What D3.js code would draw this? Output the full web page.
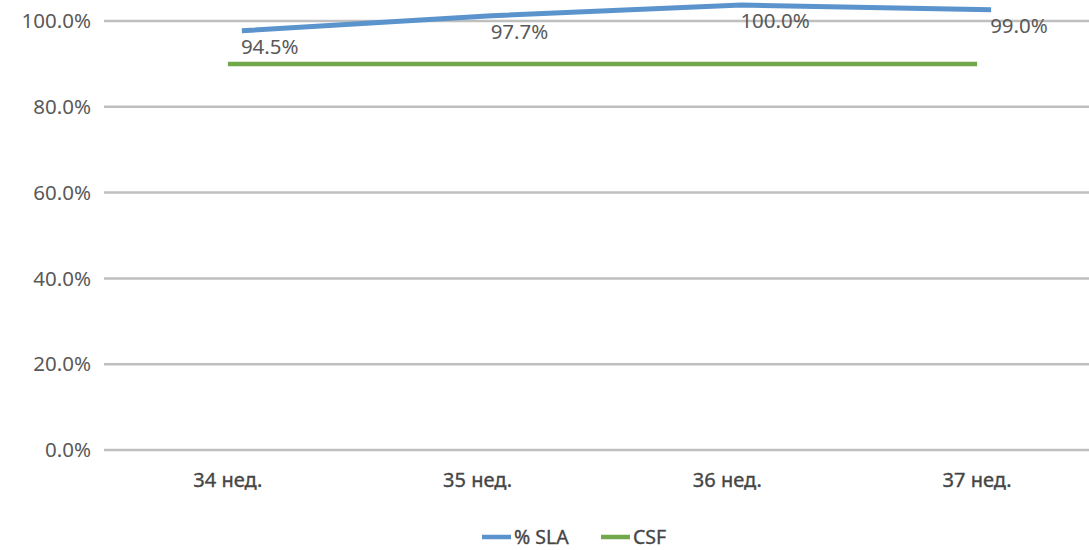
<!DOCTYPE html>
<html><head><meta charset="utf-8">
<script src="https://cdn.jsdelivr.net/npm/d3@7"></script>
<style>body{margin:0;background:#fff}svg{display:block}text{font-family:"Noto Sans",sans-serif;fill:#595959}</style>
</head><body><svg id="c" width="1089" height="550"></svg>
<script>
const categories = ["34 нед.", "35 нед.", "36 нед.", "37 нед."];
const slaValues = [94.5, 97.7, 100.0, 99.0];
const csfValues = [90, 90, 90, 90];
const yTicks = [0, 20, 40, 60, 80, 100];
const seriesNames = ["% SLA", "CSF"];
const colors = ["#5b93cc", "#70a84b"];

const svg = d3.select("#c");
const x = d3.scaleBand().domain(categories).range([103, 1102]);
const xc = d => x(d) + x.bandwidth() / 2;
const y = d3.scaleLinear().domain([0, 100]).range([450, 21]);
// secondary axes used by the % SLA series (hidden)
const x2 = d3.scaleBand().domain(categories).range([117, 1116]);
const x2c = d => x2(d) + x2.bandwidth() / 2;
const y2 = d3.scaleLinear().domain([0, 100]).range([475, 5]);

// gridlines
svg.append("g").selectAll("line").data(yTicks).join("line")
  .attr("x1", 104).attr("x2", 1089)
  .attr("y1", d => y(d)).attr("y2", d => y(d))
  .attr("stroke", "#bfbfbf").attr("stroke-width", 2.5);

// y labels
const fmt = d3.format(".1f");
svg.append("g").selectAll("text").data(yTicks).join("text")
  .attr("x", 91).attr("y", d => y(d)).attr("dy", "0.35em")
  .attr("text-anchor", "end").attr("font-size", 20.5)
  .text(d => fmt(d) + "%");

// x labels
svg.append("g").selectAll("text").data(categories).join("text")
  .attr("x", d => xc(d)).attr("y", 480).attr("dy", "0.35em")
  .attr("text-anchor", "middle").attr("font-size", 20)
  .style("fill", "#454545").style("stroke", "#454545").style("stroke-width", 0.35)
  .text(d => d);

// CSF line
svg.append("path").datum(csfValues.map((v, i) => [categories[i], v]))
  .attr("fill", "none").attr("stroke", colors[1]).attr("stroke-width", 4.5)
  .attr("d", d3.line().x(d => xc(d[0])).y(d => y(d[1])));

// SLA line
const slaPts = slaValues.map((v, i) => [categories[i], v]);
svg.append("path").datum(slaPts)
  .attr("fill", "none").attr("stroke", colors[0]).attr("stroke-width", 5)
  .attr("stroke-linejoin", "round")
  .attr("d", d3.line().x(d => x2c(d[0])).y(d => y2(d[1])));

// SLA labels
svg.append("g").selectAll("text").data(slaPts).join("text")
  .attr("x", d => x2c(d[0]) - 1).attr("y", d => y2(d[1]) + 16).attr("dy", "0.35em")
  .attr("font-size", 20.5)
  .text(d => fmt(d[1]) + "%");

// legend
const leg = svg.append("g");
const legX = [482, 601];
seriesNames.forEach((n, i) => {
  leg.append("line").attr("x1", legX[i]).attr("x2", legX[i] + 29)
    .attr("y1", 537).attr("y2", 537).attr("stroke", colors[i]).attr("stroke-width", 4.5);
  leg.append("text").attr("x", legX[i] + 32).attr("y", 537).attr("dy", "0.35em")
    .attr("font-size", 19.5)
    .style("fill", "#454545").style("stroke", "#454545").style("stroke-width", 0.35)
    .text(n);
});
</script></body></html>
